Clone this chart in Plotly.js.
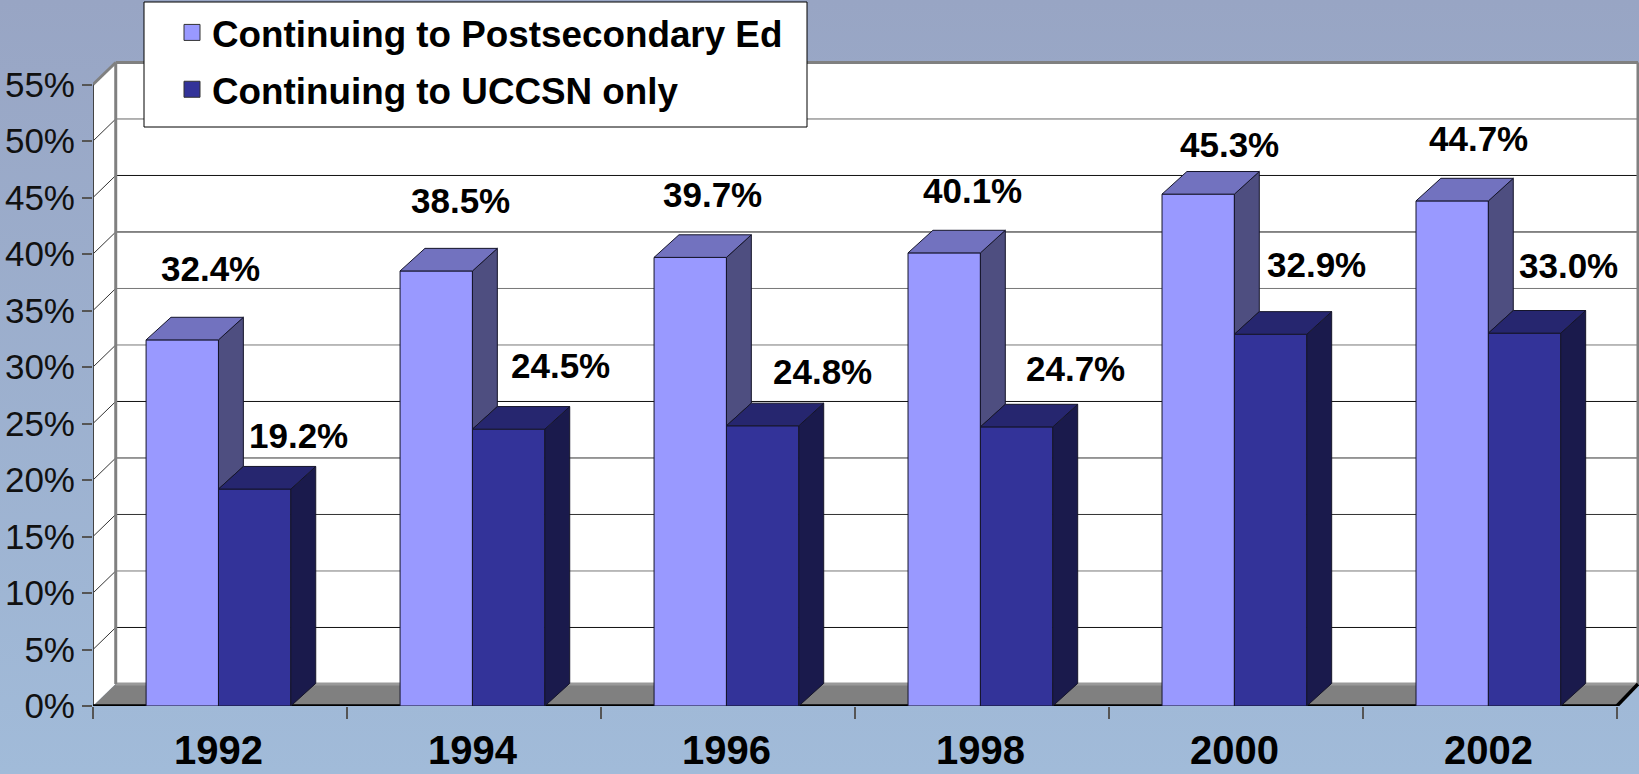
<!DOCTYPE html>
<html>
<head>
<meta charset="utf-8">
<script src="https://cdn.plot.ly/plotly-3.0.1.min.js"></script>
<style>
  html, body { margin: 0; padding: 0; height: 100%; overflow: hidden; }
  body { background: linear-gradient(#98a5c4, #a1bbd9); }
  #chart { width: 1639px; height: 774px; }
</style>
</head>
<body>
<div id="chart"></div>
<script>
// values
const years = ["1992", "1994", "1996", "1998", "2000", "2002"];
const postsecondary = [32.4, 38.5, 39.7, 40.1, 45.3, 44.7];
const uccsn = [19.2, 24.5, 24.8, 24.7, 32.9, 33.0];
const seriesNames = ["Continuing to Postsecondary Ed", "Continuing to UCCSN only"];
const yTicks = [0, 5, 10, 15, 20, 25, 30, 35, 40, 45, 50, 55];

// label nudges in px from the top centre of each bar, they are hand placed in the original
const shiftPost = [[28, 71], [24, 70], [22, 63], [28, 62], [31, 50], [26, 62]];
const shiftUccsn = [[44, 54], [52, 64], [60, 54], [59, 58], [46, 70], [44, 68]];

// fake 3D depth, in axis units
const barW = 0.285;
const barDx = 0.098, barDy = 2.0;
const wallDx = 0.0895, wallDy = 1.95;
const wallRight = 6.083;
const font = "'Liberation Sans', Arial, sans-serif";

const gridColors = {
  5: "#111", 10: "#777", 15: "#333", 20: "#333", 25: "#111",
  30: "#777", 35: "#777", 40: "#111", 45: "#111", 50: "#666"
};

const centers = years.map((_, i) => i + 0.494);

// polygons for the top and side faces, null separated
function topFace(vals, off) {
  const xs = [], ys = [];
  vals.forEach((v, i) => {
    const x = centers[i] + off;
    xs.push(x, x + barDx, x + barW + barDx, x + barW, x, null);
    ys.push(v, v + barDy, v + barDy, v, v, null);
  });
  return { x: xs, y: ys };
}
function sideFace(vals, off, lows) {
  const xs = [], ys = [];
  vals.forEach((v, i) => {
    const x = centers[i] + off + barW;
    const low = lows ? lows[i] : 0;
    xs.push(x, x + barDx, x + barDx, x, x, null);
    ys.push(v, v + barDy, low + barDy, low, v, null);
  });
  return { x: xs, y: ys };
}
function face(poly, fill) {
  return {
    x: poly.x, y: poly.y, mode: "lines", fill: "toself", fillcolor: fill,
    line: { color: "#15152a", width: 1 }, showlegend: false, hoverinfo: "skip"
  };
}
function front(vals, off, fill, name) {
  return {
    type: "bar", x: centers, y: vals, width: barW, offset: off, name: name,
    marker: { color: fill, line: { color: "#15152a", width: 1 } },
    showlegend: false, hovertemplate: "%{y:.1f}%<extra>" + name + "</extra>"
  };
}
function legendOnly(fill, name) {
  return {
    x: [null], y: [null], mode: "markers", name: name, legendgroup: name,
    marker: { symbol: "square", size: 22, color: fill, line: { color: "#333", width: 1 } }
  };
}

const traces = [
  front(postsecondary, -barW, "#9999ff", seriesNames[0]),
  front(uccsn, 0, "#333399", seriesNames[1]),
  face(sideFace(postsecondary, -barW, uccsn), "#4e4e80"),
  face(topFace(postsecondary, -barW), "#7272bf"),
  face(sideFace(uccsn, 0), "#1a1a4c"),
  face(topFace(uccsn, 0), "#26266f"),
  legendOnly("#9999ff", seriesNames[0]),
  legendOnly("#333399", seriesNames[1])
];

function poly(points) {
  return "M" + points.map(p => p[0] + "," + p[1]).join("L") + "Z";
}
function line(x0, y0, x1, y1, color, width) {
  return { type: "line", x0, y0, x1, y1, layer: "below", line: { color, width } };
}
function area(points, fill) {
  return { type: "path", path: poly(points), fillcolor: fill, line: { width: 0 }, layer: "below" };
}

const top55 = 55 + wallDy;
const shapes = [
  area([[wallDx, wallDy], [wallRight, wallDy], [wallRight, top55], [wallDx, top55]], "#ffffff"),
  area([[0, 0], [wallDx, wallDy], [wallDx, top55], [0, 55]], "#ffffff"),
  area([[0, 0], [wallDx, wallDy], [wallRight, wallDy], [6, 0]], "#808080")
];
yTicks.filter(v => v > 0 && v < 55).forEach(v => {
  shapes.push(line(wallDx, v + wallDy, wallRight, v + wallDy, gridColors[v], 1));
  shapes.push(line(0, v, wallDx, v + wallDy, "#333", 1));
});
shapes.push(
  line(wallDx, wallDy, wallRight, wallDy, "#999", 3),
  line(wallDx, wallDy, wallDx, top55, "#808080", 3),
  line(wallDx, top55, wallRight, top55, "#808080", 3),
  line(0, 55, wallDx, top55, "#808080", 3),
  line(wallRight, wallDy, wallRight, top55, "#808080", 3),
  line(0, 0, 0, 55, "#444", 2),
  line(0, 0, 6, 0, "#000", 3.5),
  line(6, 0, wallRight, wallDy, "#000", 3.5)
);
// legend box, the native one can't be padded to this height
shapes.push({
  type: "rect", xref: "paper", yref: "paper", layer: "above",
  x0: (144 - 93) / 1546, x1: (807 - 93) / 1546,
  y0: (706 - 127) / 666, y1: (706 - 2) / 666,
  fillcolor: "#ffffff", line: { color: "#000", width: 1 }
});

function labels(vals, off, shifts) {
  return vals.map((v, i) => ({
    x: centers[i] + off, y: v, xshift: shifts[i][0], yshift: shifts[i][1],
    text: v.toFixed(1) + "%", showarrow: false, xanchor: "center", yanchor: "middle",
    font: { family: font, size: 35, color: "#000", weight: 700 }
  }));
}

const layout = {
  width: 1639,
  height: 774,
  margin: { l: 93, r: 0, t: 40, b: 68, autoexpand: false },
  paper_bgcolor: "rgba(0,0,0,0)",
  plot_bgcolor: "rgba(0,0,0,0)",
  barmode: "overlay",
  font: { family: font, color: "#000" },
  xaxis: {
    range: [0, 6.087], showgrid: false, zeroline: false, showline: false,
    tickmode: "array", tickvals: centers, ticktext: years, ticks: "",
    ticklabelstandoff: 17,
    tickfont: { family: font, size: 40, color: "#000", weight: 700 },
    minor: { tickmode: "array", tickvals: [0, 1, 2, 3, 4, 5, 6], ticks: "outside", ticklen: 12, tickwidth: 1.5, tickcolor: "#555", showgrid: false }
  },
  yaxis: {
    range: [0, 58.94], showgrid: false, zeroline: false, showline: false,
    tickmode: "array", tickvals: yTicks, ticktext: yTicks.map(v => v + "%"),
    ticks: "outside", ticklen: 10, tickwidth: 1.5, tickcolor: "#555",
    tickfont: { family: font, size: 35, color: "#111" }
  },
  legend: {
    xref: "container", yref: "container", x: 144 / 1639, y: 1 - 2 / 774,
    xanchor: "left", yanchor: "top",
    bgcolor: "rgba(0,0,0,0)", borderwidth: 0,
    font: { family: font, size: 36.8, color: "#000", weight: 700 },
    itemsizing: "trace", traceorder: "grouped", tracegroupgap: 6,
    indentation: 28, entrywidthmode: "pixels", entrywidth: 590,
    itemclick: false, itemdoubleclick: false
  },
  shapes: shapes,
  annotations: labels(postsecondary, -barW / 2, shiftPost).concat(labels(uccsn, barW / 2, shiftUccsn))
};

Plotly.newPlot("chart", traces, layout, { displayModeBar: false, responsive: false });
</script>
</body>
</html>
